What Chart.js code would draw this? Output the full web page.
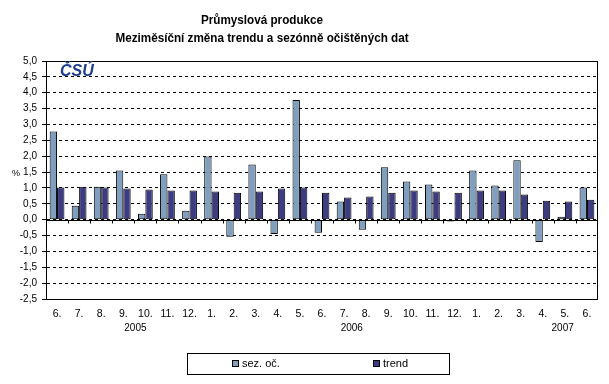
<!DOCTYPE html>
<html>
<head>
<meta charset="utf-8">
<script src="https://cdn.jsdelivr.net/npm/chart.js@4.4.1/dist/chart.umd.min.js"></script>
<style>
  html, body { margin: 0; padding: 0; background: #fff; }
  #wrap { width: 609px; height: 384px; }
</style>
</head>
<body>
<div id="wrap"><canvas id="myChart" width="609" height="384"></canvas></div>
<script>
// months Jun 2005 .. Jun 2007
var xlabels = ["6.","7.","8.","9.","10.","11.","12.","1.","2.","3.","4.","5.","6.","7.","8.","9.","10.","11.","12.","1.","2.","3.","4.","5.","6."];
var sezOc = [2.78,0.44,1.04,1.55,0.19,1.43,0.28,1.99,-0.54,1.74,-0.45,3.77,-0.41,0.57,-0.32,1.65,1.20,1.11,-0.06,1.55,1.08,1.87,-0.70,0.09,1.01];
var trend = [1.01,1.04,1.01,0.98,0.95,0.92,0.92,0.89,0.85,0.89,0.98,1.01,0.85,0.70,0.73,0.85,0.92,0.89,0.85,0.92,0.92,0.79,0.60,0.57,0.63];
var years = ["2005","2006","2007"];
var yearPos = [3.55, 13.35, 22.9]; // category index under which the year sits
var titleLines = ["Průmyslová produkce", "Meziměsíční změna trendu a sezónně očištěných dat"];

var FONT = "'Liberation Sans', Arial, sans-serif";

// frame, zero line, small ticks on zero line, title, % label, years, logo, legend
var extras = {
    id: 'extras',
    afterDraw(chart) {
        const ctx = chart.ctx;
        const a = chart.chartArea;
        const xs = chart.scales.x;
        const ys = chart.scales.y;
        ctx.save();
        ctx.strokeStyle = '#000';
        ctx.lineWidth = 1;
        ctx.setLineDash([]);
        ctx.strokeRect(Math.round(a.left) + 0.5, Math.round(a.top) + 0.5, Math.round(a.right - a.left) - 1, Math.round(a.bottom - a.top));
        const y0 = Math.round(ys.getPixelForValue(0)) + 0.5;
        ctx.beginPath();
        ctx.moveTo(a.left, y0); ctx.lineTo(a.right, y0);
        for (let i = 1; i < xlabels.length; i++) {
            const x = Math.round((xs.getPixelForValue(i - 1) + xs.getPixelForValue(i)) / 2) + 0.5;
            ctx.moveTo(x, y0); ctx.lineTo(x, y0 + 3);
        }
        ctx.stroke();

        // title (squeezed a little, the original face is narrower)
        ctx.fillStyle = '#000';
        ctx.textAlign = 'center';
        ctx.textBaseline = 'middle';
        ctx.save();
        ctx.scale(0.9, 1);
        ctx.font = "bold 13px " + FONT;
        ctx.fillText(titleLines[0], 262 / 0.9, 20);
        ctx.fillText(titleLines[1], 262 / 0.9, 38);
        ctx.restore();

        // % unit
        ctx.font = "9px " + FONT;
        ctx.fillText("%", 16, 174);

        // years
        ctx.font = "10px " + FONT;
        years.forEach(function(y, i) {
            const p = yearPos[i];
            const lo = Math.floor(p);
            const x = xs.getPixelForValue(lo) + (p - lo) * (xs.getPixelForValue(lo + 1) - xs.getPixelForValue(lo));
            ctx.fillText(y, x, 328);
        });

        // logo
        ctx.textAlign = 'left';
        ctx.fillStyle = '#1d3d8f';
        ctx.font = "italic bold 16px " + FONT;
        ctx.fillText("ČSÚ", 60, 72);

        // legend
        ctx.strokeStyle = '#000';
        ctx.strokeRect(187.5, 353.5, 262, 21);
        const lx = [232, 373];
        chart.data.datasets.forEach(function(ds, i) {
            ctx.fillStyle = ds.backgroundColor;
            ctx.fillRect(lx[i], 360, 6, 6);
            ctx.strokeRect(lx[i] + 0.5, 360.5, 6, 6);
            ctx.fillStyle = '#000';
            ctx.font = "11px " + FONT;
            ctx.fillText(ds.label, lx[i] + 10, 364);
        });
        ctx.restore();
    }
};

const ctx = document.getElementById('myChart');

new Chart(ctx, {
    type: 'bar',
    data: {
        labels: xlabels,
        datasets: [
            {
                label: 'sez. oč.',
                data: sezOc,
                backgroundColor: '#809fbf',
                borderColor: '#000',
                borderWidth: 1,
                borderSkipped: false
            },
            {
                label: 'trend',
                data: trend,
                backgroundColor: '#3d3c80',
                borderColor: '#000',
                borderWidth: 1,
                borderSkipped: false
            }
        ]
    },
    options: {
        responsive: false,
        animation: false,
        devicePixelRatio: 1,
        layout: { padding: { left: 0, right: 11, top: 61, bottom: 0 } },
        datasets: { bar: { categoryPercentage: 0.67, barPercentage: 1.0 } },
        plugins: {
            legend: { display: false },
            title: { display: false },
            tooltip: { enabled: false }
        },
        scales: {
            x: {
                grid: { display: false, drawTicks: false },
                border: { display: false },
                ticks: {
                    color: '#000',
                    font: { family: FONT, size: 10.5 },
                    padding: 9,
                    maxRotation: 0,
                    autoSkip: false
                },
                afterFit(scale) { scale.height = 85; }
            },
            y: {
                min: -2.5,
                max: 5,
                grid: { color: '#000', lineWidth: 1, tickLength: 4, tickColor: '#000' },
                border: { display: true, color: '#000', width: 1, dash: [3, 3] },
                ticks: {
                    stepSize: 0.5,
                    autoSkip: false,
                    color: '#000',
                    padding: 5,
                    font: { family: FONT, size: 10 },
                    callback: function(v) { return v.toFixed(1).replace('.', ','); }
                },
                afterFit(scale) { scale.width = 46; }
            }
        }
    },
    plugins: [extras]
});
</script>
</body>
</html>
